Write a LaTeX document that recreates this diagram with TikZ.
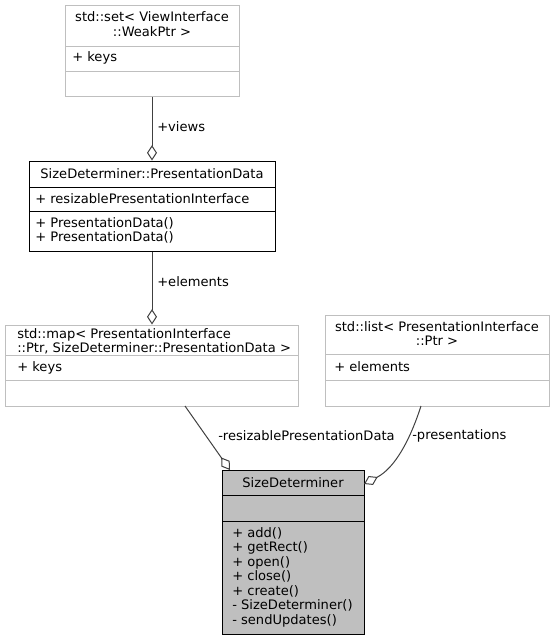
\documentclass[tikz,border=0pt]{standalone}
\usepackage{fontspec}
\setmainfont{DejaVu Sans}
\usetikzlibrary{arrows.meta}
\begin{document}
\begin{tikzpicture}[x=0.75pt,y=-0.75pt,
  every node/.style={font=\fontsize{9.8pt}{10.9pt}\selectfont},
  txt/.style={inner sep=0pt,anchor=west},
  ctxt/.style={inner sep=0pt,align=center},
  ltxt/.style={inner sep=0pt,anchor=west,align=left},
  lightbox/.style={draw=gray!50,line width=0.75pt,fill=white,inner sep=0pt},
  darkbox/.style={draw=black,line width=0.75pt,fill=white,inner sep=0pt},
  sdbox/.style={draw=black,line width=0.75pt,fill=gray!50,inner sep=0pt},
  agg/.style={draw=black!75,line width=0.75pt,-{Diamond[length=11.5pt,width=7.5pt,fill=white,line width=0.75pt]}},
  lbl/.style={inner sep=0pt,anchor=west,text=black}
]
\useasboundingbox (0,0) rectangle (554,640);

% std::set box
\node[lightbox,minimum width=174*0.75pt,minimum height=91*0.75pt] (set) at (152,50.5) {};
\draw[gray!50,line width=0.75pt] (65,46) -- (239,46) (65,71) -- (239,71);
\node[ctxt] (settitle) at (152,24) {std::set< ViewInterface\\::WeakPtr >};
\node[txt] (setkeys) at (72,58) {+ keys};

% PresentationData box
\node[darkbox,minimum width=246*0.75pt,minimum height=90*0.75pt] (pd) at (152,206) {};
\draw[black,line width=0.75pt] (29,187) -- (275,187) (29,211) -- (275,211);
\node[ctxt] (pdtitle) at (152,173.5) {SizeDeterminer::PresentationData};
\node[txt] (pdattr) at (35,198.5) {+ resizablePresentationInterface};
\node[ltxt] (pdops) at (35,230.5) {+ PresentationData()\\+ PresentationData()};

% std::map box
\node[lightbox,minimum width=293*0.75pt,minimum height=81*0.75pt] (map) at (151.5,365.5) {};
\draw[gray!50,line width=0.75pt] (5,355) -- (298,355) (5,380) -- (298,380);
\node[ltxt] (maptitle) at (17,341.5) {std::map< PresentationInterface\\::Ptr, SizeDeterminer::PresentationData >};
\node[txt] (mapkeys) at (17,367.5) {+ keys};

% std::list box
\node[lightbox,minimum width=224*0.75pt,minimum height=91*0.75pt] (list) at (437,360.5) {};
\draw[gray!50,line width=0.75pt] (325,354) -- (549,354) (325,380) -- (549,380);
\node[ctxt] (listtitle) at (437,333.5) {std::list< PresentationInterface\\::Ptr >};
\node[txt] (listel) at (334,366.5) {+ elements};

% SizeDeterminer box
\node[sdbox,minimum width=142*0.75pt,minimum height=164*0.75pt] (sd) at (293,552) {};
\draw[black,line width=0.75pt] (222,495) -- (364,495) (222,521) -- (364,521);
\node[ctxt] (sdtitle) at (293,482.5) {SizeDeterminer};
\node[ltxt] (sdops) at (232,577) {+ add()\\+ getRect()\\+ open()\\+ close()\\+ create()\\- SizeDeterminer()\\- sendUpdates()};

% connectors
\coordinate (mapout) at (185,406);
\coordinate (sdin1) at (230,470);
\coordinate (listout) at (421,406);
\coordinate (sdin2) at (364,484);
\draw[agg] (set.south) -- (pd.north);
\draw[agg] (pd.south) -- (pd.south |- map.north);
\draw[agg] (mapout) -- (sdin1);
\draw[agg] (listout) .. controls (410,440) and (395,468) .. (sdin2);

\node[lbl] (l1) at (157,127) {+views};
\node[lbl] (l2) at (157,282) {+elements};
\node[lbl] (l3) at (218,436) {-resizablePresentationData};
\node[lbl] (l4) at (412,436) {-presentations};
\end{tikzpicture}
\end{document}
